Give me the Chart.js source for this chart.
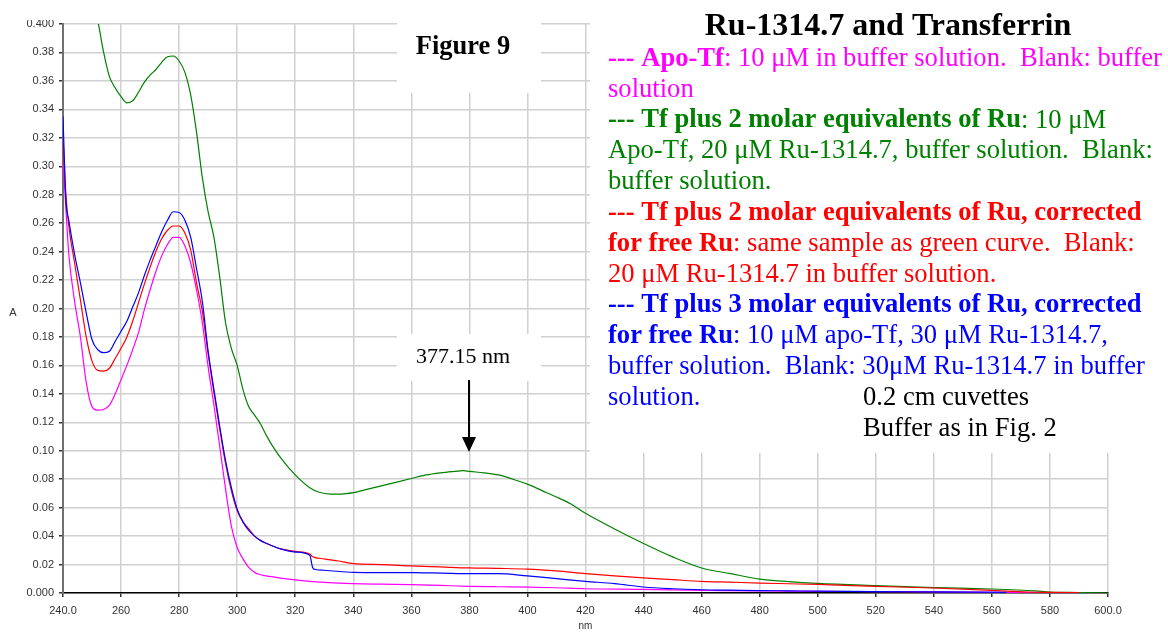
<!DOCTYPE html>
<html>
<head>
<meta charset="utf-8">
<script src="https://cdn.jsdelivr.net/npm/chart.js@4.4.1/dist/chart.umd.min.js"></script>
<style>
  html, body { margin: 0; padding: 0; background: #fff; }
  #wrap { width: 1168px; height: 635px; }
</style>
</head>
<body>
<div id="wrap"><canvas id="spectra" width="1168" height="635"></canvas></div>
<script>
// --- DATA ---
const apoNm = [240,241,242,244,246,248,250,252,254,256,258,260,262,264,266,268,270,272,274,276,278,280,282,284,286,288,290,292,294,296,298,300,302,304,306,308,310,315,320,325,330,340,350,360,370,380,390,400,410,420,440,460,480,500,520,540,560,580,590];
const apoA  = [0.305,0.27,0.238,0.205,0.180,0.148,0.131,0.1285,0.129,0.132,0.140,0.150,0.160,0.171,0.183,0.199,0.213,0.226,0.237,0.245,0.250,0.250,0.244,0.232,0.213,0.190,0.159,0.132,0.103,0.073,0.047,0.032,0.024,0.018,0.0145,0.0128,0.012,0.0105,0.0092,0.0082,0.0075,0.0066,0.0062,0.0059,0.0053,0.0047,0.0044,0.0042,0.0037,0.003,0.0026,0.0019,0.0015,0.0012,0.001,0.0008,0.0005,0.0002,0.0001];

const tf2Nm = [240,244,248,250,252,254,256,258,260,262,264,266,268,270,272,274,276,278,280,282,284,286,288,290,292,294,296,298,300,302,304,306,308,310,312,315,320,325,328,332,336,340,345,350,355,360,365,370,375,378,380,385,390,395,400,405,410,415,420,430,440,450,460,470,480,490,500,520,540,560,575,580,590,600];
const tf2A  = [0.52,0.47,0.43,0.415,0.402,0.38,0.363,0.355,0.349,0.3446,0.346,0.352,0.359,0.364,0.368,0.373,0.377,0.3775,0.374,0.366,0.350,0.324,0.292,0.268,0.250,0.222,0.190,0.172,0.160,0.143,0.131,0.125,0.119,0.111,0.104,0.095,0.083,0.074,0.071,0.0695,0.0695,0.0705,0.073,0.0755,0.078,0.0805,0.083,0.0845,0.0855,0.086,0.0855,0.0845,0.083,0.080,0.0765,0.072,0.0675,0.0625,0.056,0.045,0.0348,0.0254,0.0176,0.0136,0.0097,0.008,0.0068,0.0052,0.0038,0.0028,0.0015,0.0007,0.0003,0];

const tf2corrNm = [240,241,242,244,246,248,250,252,254,256,258,260,262,264,266,268,270,272,274,276,278,280,282,284,286,288,290,292,294,296,298,300,302,304,306,308,310,315,320,325,326,330,335,340,350,360,370,380,390,400,410,420,430,440,450,460,470,480,490,500,520,540,560,572,580,590];
const tf2corrA  = [0.32,0.28,0.258,0.232,0.206,0.180,0.163,0.1565,0.156,0.158,0.165,0.172,0.180,0.191,0.204,0.217,0.229,0.240,0.249,0.255,0.258,0.258,0.253,0.241,0.218,0.198,0.168,0.141,0.115,0.091,0.072,0.058,0.050,0.045,0.040,0.037,0.035,0.031,0.0293,0.0274,0.0255,0.024,0.0225,0.0206,0.020,0.019,0.0183,0.0176,0.0173,0.0168,0.0155,0.0136,0.012,0.0106,0.0094,0.0082,0.0076,0.007,0.0065,0.006,0.0047,0.0035,0.0019,0.0007,0.0004,0.0002];

const tf3corrNm = [240,241,242,244,246,248,250,252,254,256,258,260,262,264,266,268,270,272,274,276,278,280,282,284,286,288,290,292,294,296,298,300,302,304,306,308,310,315,320,325,326,327,330,340,350,360,370,380,390,400,410,420,430,440,450,460,470,480,490,500,520,540,565];
const tf3corrA  = [0.335,0.276,0.262,0.238,0.218,0.197,0.178,0.171,0.169,0.170,0.177,0.184,0.191,0.201,0.211,0.223,0.234,0.244,0.254,0.262,0.268,0.2675,0.262,0.250,0.228,0.205,0.170,0.143,0.117,0.093,0.074,0.059,0.050,0.044,0.040,0.037,0.035,0.031,0.0288,0.0265,0.018,0.0165,0.016,0.0145,0.0143,0.0143,0.014,0.0136,0.0136,0.012,0.0101,0.0082,0.0066,0.0042,0.003,0.0023,0.002,0.0017,0.0015,0.0013,0.001,0.0008,0.0005];

const xMin = 240, xMax = 600, xStep = 20;
const yMin = 0, yMax = 0.4, yStep = 0.02;

const title = 'Ru-1314.7 and Transferrin';
const figLabel = 'Figure 9';
const peakLabel = '377.15 nm';
const arrowNm = 380;

// legend text: [colour, [[text, bold], ...]] per line
const noteLines = [
    ['#ff00ff', [['--- Apo-Tf', true], [': 10 \u03bcM in buffer solution.  Blank: buffer', false]]],
    ['#ff00ff', [['solution', false]]],
    ['#008000', [['--- Tf plus 2 molar equivalents of Ru', true], [': 10 \u03bcM', false]]],
    ['#008000', [['Apo-Tf, 20 \u03bcM Ru-1314.7, buffer solution.  Blank:', false]]],
    ['#008000', [['buffer solution.', false]]],
    ['#ff0000', [['--- Tf plus 2 molar equivalents of Ru, corrected', true]]],
    ['#ff0000', [['for free Ru', true], [': same sample as green curve.  Blank:', false]]],
    ['#ff0000', [['20 \u03bcM Ru-1314.7 in buffer solution.', false]]],
    ['#0000ff', [['--- Tf plus 3 molar equivalents of Ru, corrected', true]]],
    ['#0000ff', [['for free Ru', true], [': 10 \u03bcM apo-Tf, 30 \u03bcM Ru-1314.7,', false]]],
    ['#0000ff', [['buffer solution.  Blank: 30\u03bcM Ru-1314.7 in buffer', false]]],
    ['#0000ff', [['solution.', false]]]
];
const extraNotes = ['0.2 cm cuvettes', 'Buffer as in Fig. 2'];

const serif = '"Liberation Serif", "Times New Roman", serif';
const sans = '"Liberation Sans", Arial, sans-serif';
const noteSize = 26.6;

function pts(nm, a) {
    return nm.map((v, i) => ({ x: v, y: a[i] }));
}

function series(label, nm, a, color) {
    return {
        label: label,
        data: pts(nm, a),
        borderColor: color,
        borderWidth: 1.2,
        pointRadius: 0,
        fill: false,
        cubicInterpolationMode: 'monotone'
    };
}

// white panels behind the annotations (they hide the grid)
const panels = {
    id: 'panels',
    beforeDatasetsDraw(chart) {
        const ctx = chart.ctx;
        ctx.save();
        ctx.fillStyle = '#fff';
        ctx.fillRect(0, 0, 60, 20);
        ctx.fillRect(397, 0, 144, 93);
        ctx.fillRect(397, 334, 144, 47);
        ctx.fillRect(590, 0, 578, 453);
        ctx.restore();
    },
    afterDraw(chart) {
        const ctx = chart.ctx;
        const xs = chart.scales.x;
        ctx.save();
        ctx.textBaseline = 'middle';

        // y axis title, upright
        ctx.fillStyle = '#333';
        ctx.font = '11px ' + sans;
        ctx.textAlign = 'center';
        ctx.fillText('A', 13, 313);

        ctx.fillStyle = '#000';
        ctx.font = 'bold 26.5px ' + serif;
        ctx.fillText(figLabel, 463, 47);
        ctx.font = 'bold 32px ' + serif;
        ctx.fillText(title, 888, 27);
        ctx.font = '22px ' + serif;
        ctx.fillText(peakLabel, 463, 357);

        // arrow
        const ax = Math.round(xs.getPixelForValue(arrowNm));
        ctx.strokeStyle = '#000';
        ctx.lineWidth = 2;
        ctx.beginPath();
        ctx.moveTo(ax, 380);
        ctx.lineTo(ax, 440);
        ctx.stroke();
        ctx.beginPath();
        ctx.moveTo(ax - 7, 437);
        ctx.lineTo(ax + 7, 437);
        ctx.lineTo(ax, 452);
        ctx.closePath();
        ctx.fill();

        // legend text
        ctx.textAlign = 'left';
        noteLines.forEach((line, i) => {
            const y = 59 + i * 30.8;
            let cx = 608;
            ctx.fillStyle = line[0];
            line[1].forEach(part => {
                ctx.font = (part[1] ? 'bold ' : '') + noteSize + 'px ' + serif;
                ctx.fillText(part[0], cx, y);
                cx += ctx.measureText(part[0]).width;
            });
        });
        ctx.fillStyle = '#000';
        ctx.font = noteSize + 'px ' + serif;
        extraNotes.forEach((t, i) => {
            ctx.fillText(t, 863, 59 + (11 + i) * 30.8);
        });
        ctx.restore();
    }
};

const ctx = document.getElementById('spectra').getContext('2d');
new Chart(ctx, {
    type: 'line',
    data: {
        datasets: [
            series('Tf plus 3 molar equivalents of Ru, corrected', tf3corrNm, tf3corrA, '#0000ff'),
            series('Tf plus 2 molar equivalents of Ru, corrected', tf2corrNm, tf2corrA, '#ff0000'),
            series('Apo-Tf', apoNm, apoA, '#ff00ff'),
            series('Tf plus 2 molar equivalents of Ru', tf2Nm, tf2A, '#008000')
        ]
    },
    options: {
        responsive: false,
        animation: false,
        devicePixelRatio: 1,
        layout: { padding: { top: 24, right: 60, left: 0, bottom: 0 } },
        plugins: { legend: { display: false }, tooltip: { enabled: false } },
        scales: {
            x: {
                type: 'linear',
                min: xMin,
                max: xMax,
                afterFit: s => { s.height = 42; },
                ticks: {
                    stepSize: xStep,
                    autoSkip: false,
                    maxRotation: 0,
                    padding: 7,
                    color: '#333',
                    font: { family: sans, size: 11 },
                    callback: v => (v === xMin || v === xMax) ? v.toFixed(1) : String(v)
                },
                grid: { color: '#d0d0d0', lineWidth: 1.5, tickLength: 4, tickColor: '#333' },
                border: { color: '#000', width: 1.5 },
                title: { display: true, text: 'nm', color: '#333', font: { family: sans, size: 10 }, padding: 3 }
            },
            y: {
                min: yMin,
                max: yMax,
                afterFit: s => { s.width = 63; },
                ticks: {
                    stepSize: yStep,
                    padding: 5,
                    color: '#333',
                    font: { family: sans, size: 11 },
                    callback: v => (Math.abs(v - yMin) < 1e-9 || Math.abs(v - yMax) < 1e-9) ? v.toFixed(3) : v.toFixed(2)
                },
                grid: { color: '#d0d0d0', lineWidth: 1.5, tickLength: 4, tickColor: '#333' },
                border: { color: '#707070', width: 2 }
            }
        }
    },
    plugins: [panels]
});
</script>
</body>
</html>
